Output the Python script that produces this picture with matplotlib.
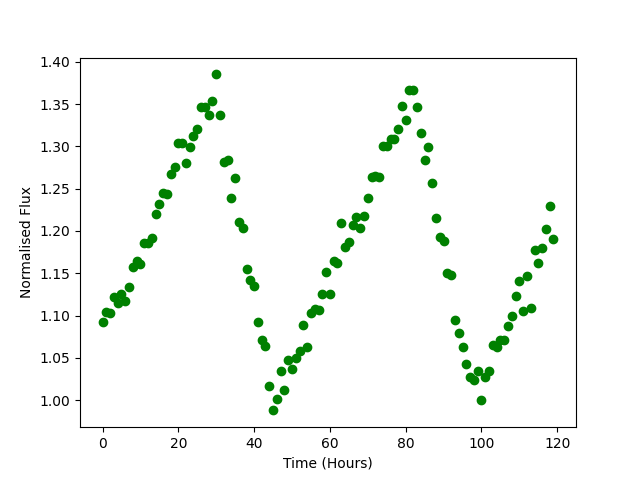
import numpy as np
from matplotlib import pyplot as plt

# time in hours, one sample per hour
hours = np.arange(120)

flux = [1.092, 1.104, 1.103, 1.122, 1.115, 1.125, 1.117, 1.134, 1.157, 1.165,
        1.161, 1.186, 1.186, 1.192, 1.220, 1.232, 1.245, 1.244, 1.267, 1.276,
        1.304, 1.304, 1.280, 1.299, 1.312, 1.320, 1.347, 1.346, 1.337, 1.354,
        1.385, 1.337, 1.282, 1.284, 1.239, 1.263, 1.211, 1.203, 1.155, 1.142,
        1.135, 1.092, 1.071, 1.064, 1.017, 0.988, 1.001, 1.034, 1.012, 1.048,
        1.037, 1.050, 1.058, 1.089, 1.063, 1.103, 1.108, 1.107, 1.125, 1.152,
        1.125, 1.164, 1.162, 1.209, 1.181, 1.187, 1.207, 1.217, 1.203, 1.218,
        1.239, 1.264, 1.265, 1.264, 1.300, 1.300, 1.309, 1.309, 1.320, 1.348,
        1.331, 1.367, 1.367, 1.347, 1.316, 1.284, 1.299, 1.257, 1.215, 1.193,
        1.188, 1.150, 1.148, 1.095, 1.079, 1.063, 1.043, 1.027, 1.024, 1.034,
        1.000, 1.027, 1.034, 1.065, 1.063, 1.071, 1.071, 1.088, 1.100, 1.123,
        1.141, 1.105, 1.147, 1.109, 1.177, 1.162, 1.180, 1.202, 1.230, 1.191]

fig = plt.figure(figsize=(6.4, 4.8), dpi=100)
plt.plot(hours, flux, 'o', color='green')
plt.xlabel('Time (Hours)')
plt.ylabel('Normalised Flux')

fig.savefig('out.png')
